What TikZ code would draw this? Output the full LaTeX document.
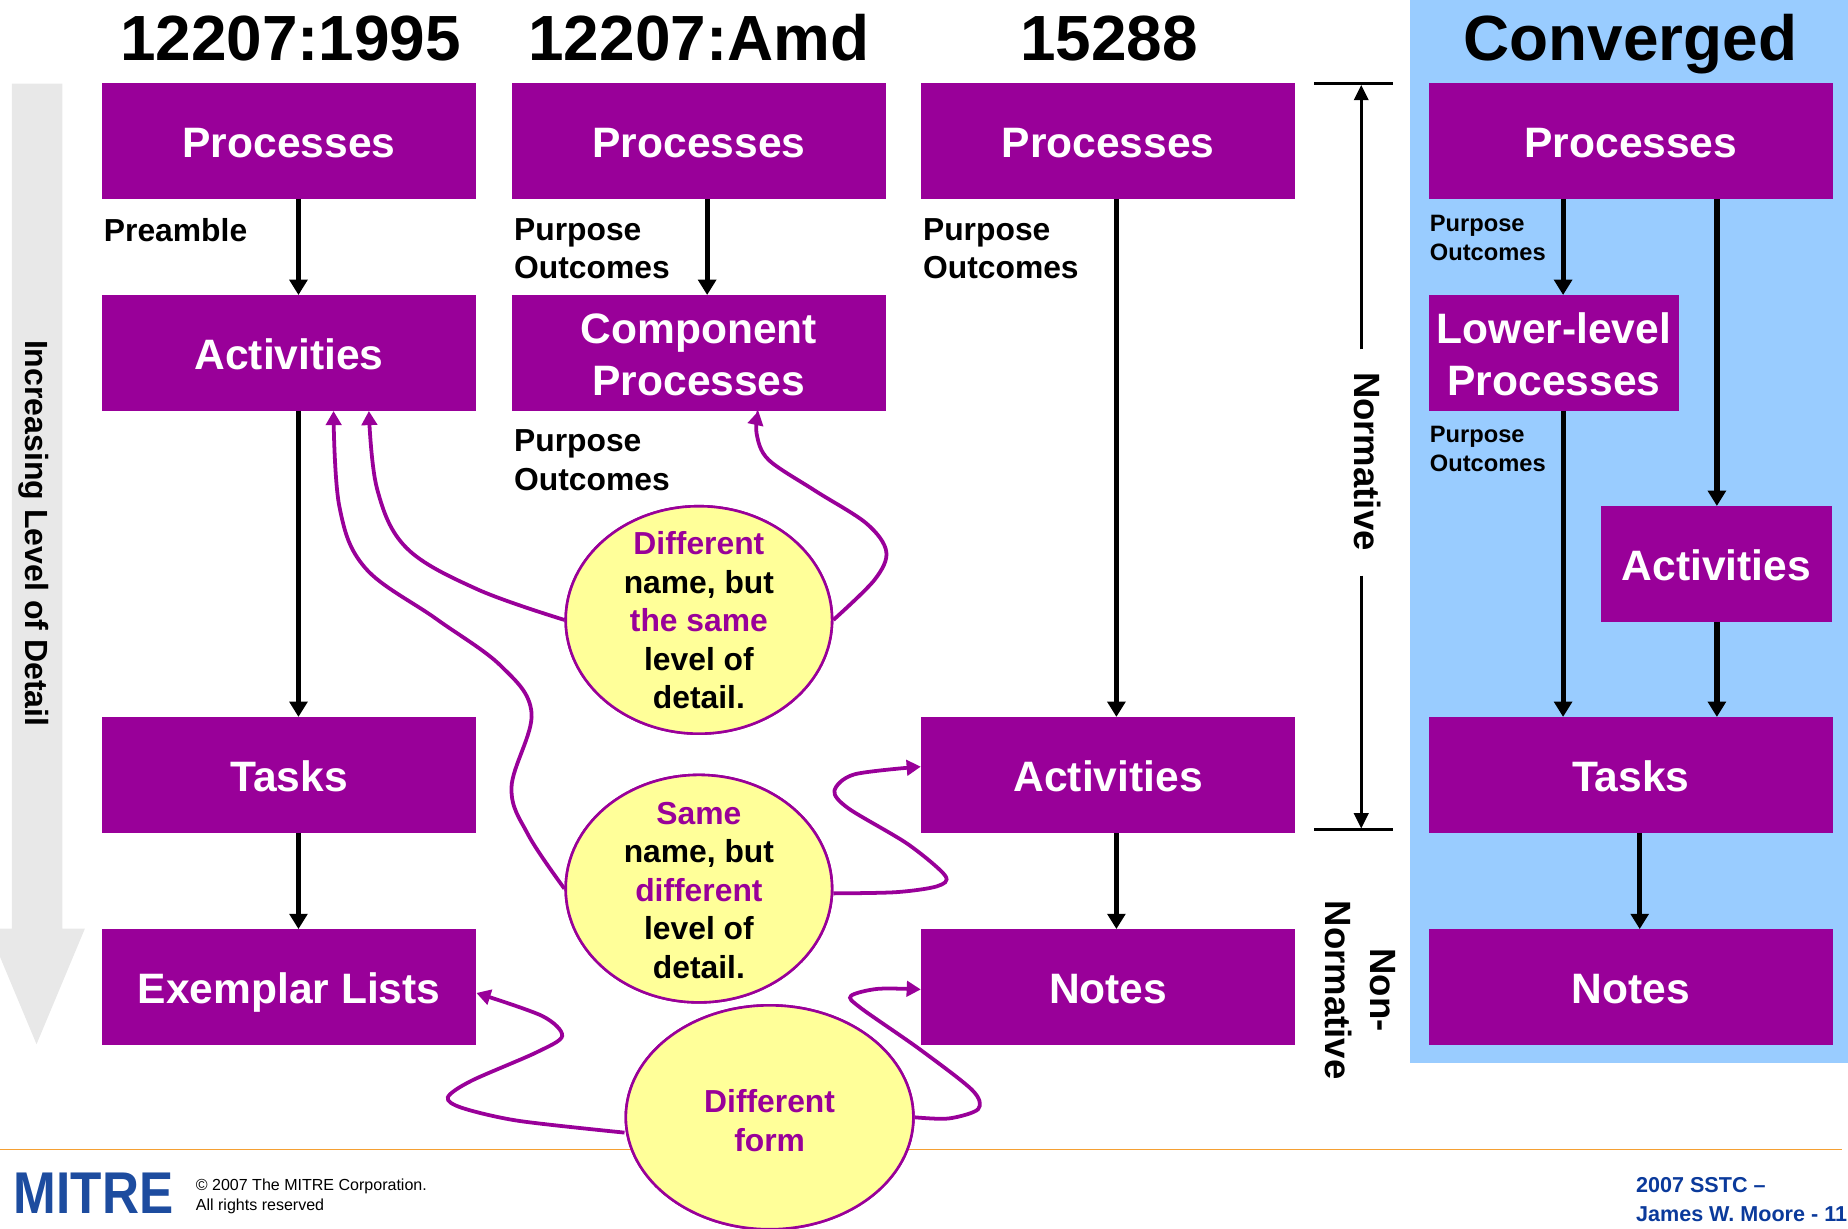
\documentclass[tikz,border=0pt]{standalone}
\usepackage{fontspec}
\setmainfont{Liberation Sans}[BoldFont={Liberation Sans Bold}]
\usetikzlibrary{arrows.meta,shapes.geometric,calc}
\definecolor{pur}{HTML}{990099}
\definecolor{yel}{HTML}{FFFF99}
\definecolor{blu}{HTML}{99CCFF}
\definecolor{gry}{HTML}{E8E8E8}
\definecolor{org}{HTML}{F5A033}
\definecolor{navy}{HTML}{0B3A9B}
\definecolor{logo}{HTML}{1D4C9F}
\newcommand{\strutup}{\rule{0pt}{28pt}}
\tikzset{
  x=1pt,y=-1pt,
  bxbase/.style={fill=pur,text=white,inner sep=0pt,minimum width=317.5pt,minimum height=98pt,align=center,
    font=\fontsize{36.1}{44}\selectfont\bfseries},
  bx/.style={bxbase,text height=28pt,text depth=0pt},
  title/.style={font=\fontsize{54.2}{60}\selectfont\bfseries,inner sep=0pt,text height=39pt,text depth=0pt},
  lab/.style={anchor=west,align=left,inner sep=0pt,font=\fontsize{27}{32.7}\selectfont\bfseries},
  slab/.style={anchor=west,align=left,inner sep=0pt,font=\fontsize{20.1}{24}\selectfont\bfseries},
  ell/.style={ellipse,draw=pur,fill=yel,line width=2.2pt,inner sep=0pt},
  elltxt/.style={align=center,inner sep=0pt,font=\fontsize{27}{32.7}\selectfont\bfseries},
  flow/.style={line width=4.4pt,-{Triangle[width=15pt,length=13pt]}},
  curv/.style={pur,line width=3.2pt,-{Triangle[width=13pt,length=12pt]}},
  dim/.style={line width=2.6pt,-{Triangle[width=12pt,length=13pt]}},
  rot/.style={rotate=-90,align=center,inner sep=0pt,font=\fontsize{31}{38}\selectfont\bfseries},
}
\begin{document}
\begin{tikzpicture}
\path[use as bounding box] (0,0) rectangle (1568,1042);
\clip (0,0) rectangle (1568,1042);
% backdrop
\fill[blu] (1196,-1) rectangle (1569,902);
\fill[gry] (10,71) -- (53,71) -- (53,788) -- (72,788) -- (31,886) -- (-10,788) -- (10,788) -- cycle;
\node[rotate=-90,inner sep=0pt,font=\fontsize{27.2}{32}\selectfont\bfseries] (detail) at (29,452.5) {Increasing Level of Detail};
% footer rule (under the third ellipse)
\coordinate (ruleA) at (0,975.5);
\coordinate (ruleB) at (1563,975.5);
\draw[org,line width=1pt] (ruleA) -- (ruleB);
% titles
\node[title] (t1) at (246.5,32) {12207:1995};
\node[title] (t2) at (593,32) {12207:Amd};
\node[title] (t3) at (941,32) {15288};
\node[title] (t4) at (1383.5,32) {Converged};
% boxes
\node[bx] (p1) at (245.25,119.5) {Processes};
\node[bx] (a1) at (245.25,299.5) {Activities};
\node[bx] (k1) at (245.25,657.5) {Tasks};
\node[bx] (x1) at (245.25,837.5) {Exemplar Lists};
\node[bx] (p2) at (593,119.5) {Processes};
\node[bxbase] (c2) at (593,299.5) {\strutup Component\\Processes};
\node[bx] (p3) at (940.25,119.5) {Processes};
\node[bx] (a3) at (940.25,657.5) {Activities};
\node[bx] (n3) at (940.25,837.5) {Notes};
\node[bx,minimum width=342.5pt] (p4) at (1383.75,119.5) {Processes};
\node[bxbase,minimum width=212pt] (l4) at (1318.5,299.5) {\strutup Lower-level\\Processes};
\node[bx,minimum width=196.5pt] (a4) at (1456.25,478.5) {Activities};
\node[bx,minimum width=342.5pt] (k4) at (1383.75,657.5) {Tasks};
\node[bx,minimum width=342.5pt] (n4) at (1383.75,837.5) {Notes};
% labels
\node[lab] (la) at (88,195) {Preamble};
\node[lab] (lb) at (436,211) {Purpose\\Outcomes};
\node[lab] (lc) at (436,390.5) {Purpose\\Outcomes};
\node[lab] (ld) at (783,211) {Purpose\\Outcomes};
\node[slab] (le) at (1213,202) {Purpose\\Outcomes};
\node[slab] (lf) at (1213,381) {Purpose\\Outcomes};
% black flow arrows
\draw[flow] ([xshift=8pt]p1.south) -- ([xshift=8pt]a1.north);
\draw[flow] ([xshift=8pt]a1.south) -- ([xshift=8pt]k1.north);
\draw[flow] ([xshift=8pt]k1.south) -- ([xshift=8pt]x1.north);
\draw[flow] ([xshift=7pt]p2.south) -- ([xshift=7pt]c2.north);
\draw[flow] ([xshift=7pt]p3.south) -- ([xshift=7pt]a3.north);
\draw[flow] ([xshift=7pt]a3.south) -- ([xshift=7pt]n3.north);
\draw[flow] ([xshift=-57.5pt]p4.south) -- ([xshift=-57.5pt]p4.south |- l4.north);
\draw[flow] ([xshift=-57.5pt]p4.south |- l4.south) -- ([xshift=-57.5pt]k4.north);
\draw[flow] ([xshift=73pt]p4.south) -- ([xshift=73pt]p4.south |- a4.north);
\draw[flow] ([xshift=73pt]p4.south |- a4.south) -- ([xshift=73pt]k4.north);
\draw[flow] ([xshift=7.5pt]k4.south) -- ([xshift=7.5pt]n4.north);
% scope markers
\coordinate (n1a) at (1115,71); \coordinate (n1b) at (1182,71);
\coordinate (n2a) at (1115,704); \coordinate (n2b) at (1182,704);
\coordinate (ntop) at (1155,72); \coordinate (nbot) at (1155,703);
\draw[line width=2.6pt] (n1a) -- (n1b);
\draw[line width=2.6pt] (n2a) -- (n2b);
\node[rot] (norm) at (1160,391.5) {Normative};
\draw[dim] (ntop |- norm.west) ++(0,-19) -- (ntop);
\draw[dim] (nbot |- norm.east) ++(0,21) -- (nbot);
\node[rot] (nonnorm) at (1154.5,840) {Non-\\Normative};
% purple connectors
\node[ell,minimum width=226pt,minimum height=193pt] (e1) at (593,526) {};
\node[ell,minimum width=226pt,minimum height=193pt] (e2) at (593,754) {};
\node[ell,minimum width=244pt,minimum height=190pt] (e3) at (653,948) {};
\draw[curv] plot[smooth,tension=.6] coordinates {(e1.west) (405,500) (345,465) (320,415) ([xshift=67.75pt]a1.south)};
\draw[curv] plot[smooth,tension=.6] coordinates {(e2.west) (448,708) (434,668) (451,605) (425,565) (370,525) (310,482) (288,430) ([xshift=37.75pt]a1.south)};
\draw[curv] plot[smooth,tension=.55] coordinates {(e1.east) (742,492) (752,468) (735,444) (691,416) (652,390) (642,368) ([xshift=50.5pt]c2.south)};
\draw[curv] plot[smooth,tension=.5] coordinates {([yshift=-4pt]e2.east) (760,757) (795,752) (802,743) (770,716) (720,686) (708,671) (725,657) ([yshift=7pt]a3.west)};
\draw[curv] plot[smooth,tension=.5] coordinates {([yshift=-13pt]e3.west) (440,951) (392,940) (380,931) (400,917) (455,893) (477,879) (460,862) ([yshift=-5pt]x1.east)};
\draw[curv] plot[smooth,tension=.5] coordinates {(e3.east) (805,949) (830,941) (825,925) (780,890) (730,855) (722,845) (745,839) ([yshift=-2pt]n3.west)};
% ellipses repainted over the connector starts, then their texts
\node[ell,minimum width=226pt,minimum height=193pt] (e1b) at (e1) {};
\node[ell,minimum width=226pt,minimum height=193pt] (e2b) at (e2) {};
\node[ell,minimum width=244pt,minimum height=190pt] (e3b) at (e3) {};
\node[elltxt] (e1t) at (593,526.5) {\textcolor{pur}{Different}\\name, but\\\textcolor{pur}{the same}\\level of\\detail.};
\node[elltxt] (e2t) at (593,755.5) {\textcolor{pur}{Same}\\name, but\\\textcolor{pur}{different}\\level of\\detail.};
\node[elltxt,text=pur] (e3t) at (653,951) {Different\\form};
% footer
\node[inner sep=0pt,text=logo,xscale=.87,font=\fontsize{50}{50}\selectfont\bfseries] (mitre) at (79.5,1012) {MITRE};
\node[anchor=west,align=left,inner sep=0pt,font=\fontsize{13.6}{16.5}\selectfont] (copy) at (166,1015) {© 2007 The MITRE Corporation.\\All rights reserved};
\node[anchor=west,align=left,inner sep=0pt,text=navy,font=\fontsize{18.3}{25}\selectfont\bfseries] (sstc) at (1388,1018) {2007 SSTC –\\James W. Moore - 11};
\end{tikzpicture}
\end{document}
